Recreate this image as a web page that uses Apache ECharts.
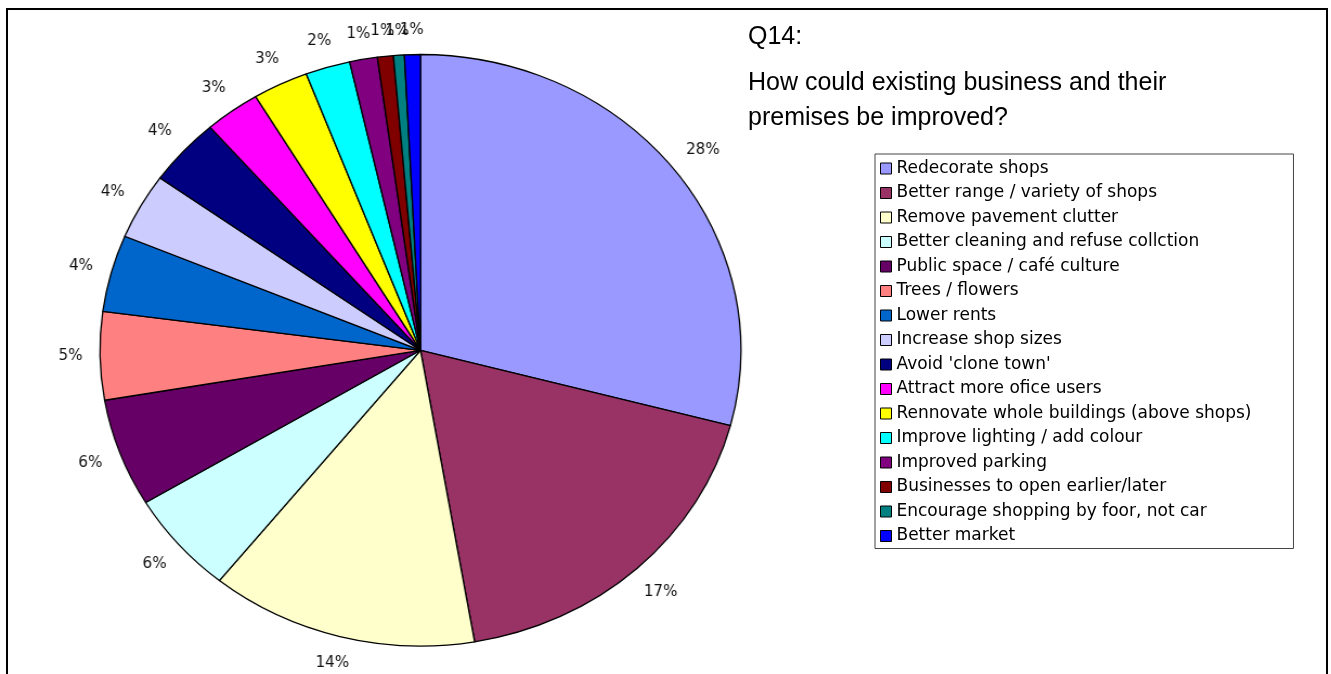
<!DOCTYPE html>
<html><head><meta charset="utf-8">
<script src="https://cdn.jsdelivr.net/npm/echarts@6/dist/echarts.min.js"></script>
<style>
html,body{margin:0;padding:0;background:#fff;width:1331px;height:674px;overflow:hidden}
#pie{position:absolute;left:0;top:0;width:740px;height:674px;transform:scaleX(1.0835);transform-origin:0 0}
#main{position:absolute;left:0;top:0;width:1331px;height:674px}
</style></head><body>
<div id="pie"></div><div id="main"></div>
<script>
const categories = [
  'Redecorate shops',
  'Better range / variety of shops',
  'Remove pavement clutter',
  'Better cleaning and refuse collction',
  'Public space / café culture',
  'Trees / flowers',
  'Lower rents',
  'Increase shop sizes',
  "Avoid 'clone town'",
  'Attract more ofice users',
  'Rennovate whole buildings (above shops)',
  'Improve lighting / add colour',
  'Improved parking',
  'Businesses to open earlier/later',
  'Encourage shopping by foor, not car',
  'Better market'
];
const values = [29.1, 18.2, 13.5, 5.6, 5.9, 4.8, 4.2, 3.6, 3.7, 2.8, 2.8, 2.25, 1.4, 0.8, 0.55, 0.8];
const percentLabels = ['28%','17%','14%','6%','6%','5%','4%','4%','4%','3%','3%','2%','1%','1%','1%','1%'];
const colors = ['#9999FF','#993366','#FFFFCC','#CCFFFF','#660066','#FF8080','#0066CC','#CCCCFF',
                '#000080','#FF00FF','#FFFF00','#00FFFF','#800080','#800000','#008080','#0000FF'];
const titleHead = 'Q14:';
const titleLines = ['How could existing business and their', 'premises be improved?'];

const PIE_CX = 388.1, PIE_CY = 350.3, PIE_R = 295.8, GAP = 16;
const total = values.reduce((a, b) => a + b, 0);
const mids = [];
let acc = 0;
values.forEach(v => { mids.push(acc + v / 2); acc += v; });

const pieData = categories.map((n, i) => ({ name: n, value: values[i], itemStyle: { color: colors[i] } }));

const pieChart = echarts.init(document.getElementById('pie'));
pieChart.setOption({
  animation: false,
  series: [{
    type: 'pie',
    center: [PIE_CX, PIE_CY],
    radius: PIE_R,
    startAngle: 90,
    clockwise: true,
    avoidLabelOverlap: false,
    data: pieData,
    itemStyle: { borderColor: '#000', borderWidth: 1.3 },
    label: {
      show: true, position: 'outside',
      formatter: p => percentLabels[p.dataIndex],
      fontFamily: "'DejaVu Sans Condensed', 'DejaVu Sans'", fontSize: 15.5, color: '#111'
    },
    labelLine: { show: false, length: 10, length2: 0 },
    emphasis: { disabled: true },
    labelLayout: function (params) {
      const i = params.dataIndex;
      const ang = mids[i] / total * 2 * Math.PI;
      const dx = Math.sin(ang), dy = -Math.cos(ang);
      const w = params.labelRect.width, h = params.labelRect.height;
      const d = PIE_R + GAP + Math.abs(dx) * w / 2 + Math.abs(dy) * h / 2;
      return { x: PIE_CX + dx * d, y: PIE_CY + dy * d, align: 'center', verticalAlign: 'middle' };
    }
  }]
});

const main = echarts.init(document.getElementById('main'));
main.setOption({
  animation: false,
  title: [{
    text: titleHead,
    left: 743, top: 17,
    textStyle: { fontFamily: 'Liberation Sans', fontSize: 25, fontWeight: 'normal', color: '#000', lineHeight: 30 }
  }, {
    text: titleLines.join('\n'),
    left: 743, top: 61,
    textStyle: { fontFamily: 'Liberation Sans', fontSize: 25, fontWeight: 'normal', color: '#000', lineHeight: 35 }
  }],
  legend: {
    orient: 'vertical', left: 875, top: 154,
    padding: [6, 42, 4, 5],
    itemWidth: 11, itemHeight: 11, itemGap: 7.5,
    borderColor: '#444', borderWidth: 1,
    icon: 'rect',
    itemStyle: { borderColor: '#000', borderWidth: 1 },
    textStyle: { fontFamily: 'DejaVu Sans', fontSize: 17, color: '#000', lineHeight: 17 },
    selectedMode: false,
    data: categories
  },
  graphic: [{
    type: 'rect', silent: true,
    shape: { x: 7, y: 9, width: 1320, height: 700 },
    style: { fill: 'none', stroke: '#000', lineWidth: 2 }
  }],
  series: [{
    type: 'pie', radius: 0, center: [-200, -200], silent: true,
    data: pieData, label: { show: false }, labelLine: { show: false }
  }]
});
</script>
</body></html>
